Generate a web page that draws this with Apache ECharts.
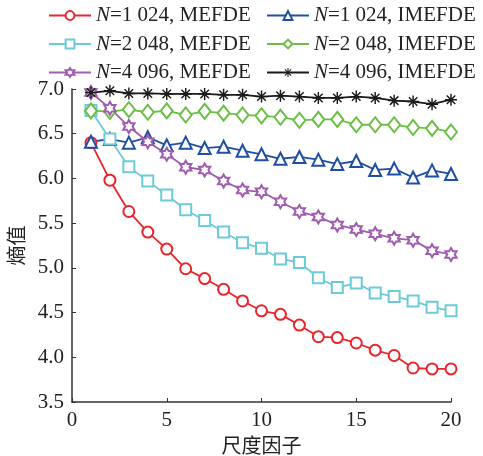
<!DOCTYPE html>
<html>
<head>
<meta charset="utf-8">
<script src="https://cdn.jsdelivr.net/npm/echarts@6/dist/echarts.min.js"></script>
<style>html,body{margin:0;padding:0;background:#fff;}#c{width:483px;height:456px;}</style>
</head>
<body>
<div id="c"></div>
<script>
var scales = [1,2,3,4,5,6,7,8,9,10,11,12,13,14,15,16,17,18,19,20];
var seriesNames = ['N=1 024, MEFDE','N=1 024, IMEFDE','N=2 048, MEFDE','N=2 048, IMEFDE','N=4 096, MEFDE','N=4 096, IMEFDE'];
var mefde1024 = [6.40,5.98,5.63,5.40,5.21,4.99,4.88,4.76,4.63,4.52,4.48,4.36,4.23,4.22,4.16,4.08,4.02,3.88,3.87,3.87];
var imefde1024 = [6.41,6.44,6.40,6.46,6.37,6.40,6.34,6.355,6.31,6.27,6.22,6.24,6.21,6.16,6.195,6.095,6.11,6.01,6.09,6.05];
var mefde2048 = [6.76,6.44,6.13,5.97,5.815,5.65,5.53,5.40,5.28,5.22,5.10,5.06,4.89,4.78,4.83,4.72,4.68,4.63,4.56,4.52];
var imefde2048 = [6.755,6.75,6.77,6.74,6.755,6.71,6.75,6.73,6.71,6.70,6.685,6.65,6.66,6.66,6.60,6.60,6.60,6.57,6.56,6.52];
var mefde4096 = [6.96,6.785,6.58,6.41,6.27,6.125,6.095,5.97,5.87,5.85,5.74,5.63,5.57,5.48,5.43,5.38,5.33,5.31,5.19,5.15];
var imefde4096 = [6.96,6.98,6.95,6.95,6.945,6.945,6.945,6.935,6.935,6.915,6.925,6.915,6.90,6.90,6.915,6.90,6.87,6.86,6.83,6.88];
var yTicks = {min:3.5, max:7.0, interval:0.5};
var xTicks = {min:0, max:20, interval:5};

function pairs(arr){ return arr.map(function(v,i){ return [scales[i], v]; }); }

var hexagram = 'emptyPath://M100,0 L128.87,50 L186.6,50 L157.7,100 L186.6,150 L128.87,150 L100,200 L71.13,150 L13.4,150 L42.3,100 L13.4,50 L71.13,50 Z';
var asterisk = 'path://M0,88 L200,88 L200,112 L0,112 Z M88,0 L112,0 L112,200 L88,200 Z M37.8,20.8 L179.2,162.2 L162.2,179.2 L20.8,37.8 Z M179.2,37.8 L37.8,179.2 L20.8,162.2 L162.2,20.8 Z';

var fontSerif = '"Liberation Serif","DejaVu Serif",serif';
var fontCJK = '"Noto Sans CJK SC",sans-serif';

function mk(name, data, color, symbol, size){
  return {
    name: name, type: 'line', data: pairs(data),
    symbol: symbol, symbolSize: size, symbolKeepAspect: true,
    showAllSymbol: true,
    lineStyle: {color: color, width: 1.8},
    itemStyle: {color: color, borderColor: color, borderWidth: 2},
    emphasis: {disabled: true},
    animation: false, z: 3
  };
}

var series = [
  mk(seriesNames[0], mefde1024, '#e8262b', 'emptyCircle', 11),
  mk(seriesNames[1], imefde1024, '#1f4fa3', 'emptyTriangle', 12),
  mk(seriesNames[2], mefde2048, '#6ccbd8', 'emptyRect', 11),
  mk(seriesNames[3], imefde2048, '#6cbf45', 'emptyDiamond', [12,15]),
  mk(seriesNames[4], mefde4096, '#a05cae', hexagram, 13),
  mk(seriesNames[5], imefde4096, '#1a1a1a', asterisk, 12)
];
series[5].itemStyle = {color:'#1a1a1a', borderWidth:0};

function legendFmt(name){ return '{i|N}' + name.substring(1); }
var legendText = {
  fontFamily: fontSerif, fontSize: 21, color: '#222',
  rich: { i: {fontFamily: fontSerif, fontSize: 21, fontStyle: 'italic', color:'#222'} }
};

var chart = echarts.init(document.getElementById('c'), null, {renderer:'canvas'});
chart.setOption({
  backgroundColor: '#fff',
  animation: false,
  legend: [
    {left: 48, top: 5, orient: 'vertical', itemWidth: 42, itemHeight: 11, itemGap: 7.5, padding: 0,
     data: [seriesNames[0], seriesNames[2], seriesNames[4]], formatter: legendFmt, textStyle: legendText, selectedMode: false},
    {left: 266, top: 5, orient: 'vertical', itemWidth: 42, itemHeight: 11, itemGap: 7.5, padding: 0,
     data: [seriesNames[1], seriesNames[3], seriesNames[5]], formatter: legendFmt, textStyle: legendText, selectedMode: false}
  ],
  grid: {left: 72, right: 32, top: 89, bottom: 54, containLabel: false, outerBoundsMode: 'none'},
  xAxis: {
    type: 'value', min: xTicks.min, max: xTicks.max, interval: xTicks.interval,
    name: '尺度因子', nameLocation: 'middle', nameGap: 30,
    nameTextStyle: {fontFamily: fontCJK, fontSize: 20, color: '#222'},
    axisLine: {lineStyle: {color: '#333', width: 1.5}},
    axisTick: {inside: true, length: 4, lineStyle: {color: '#333'}},
    axisLabel: {fontFamily: fontSerif, fontSize: 21, color: '#222', margin: 8},
    splitLine: {show: false}
  },
  yAxis: {
    type: 'value', min: yTicks.min, max: yTicks.max, interval: yTicks.interval,
    name: '熵值', nameLocation: 'middle', nameGap: 42, nameRotate: 90,
    nameTextStyle: {fontFamily: fontCJK, fontSize: 20, color: '#222'},
    axisLine: {show: true, lineStyle: {color: '#333', width: 1.5}},
    axisTick: {show: true, inside: true, length: 4, lineStyle: {color: '#333'}},
    axisLabel: {fontFamily: fontSerif, fontSize: 21, color: '#222', margin: 8,
      formatter: function(v){ return v.toFixed(1); }},
    splitLine: {show: false}
  },
  series: series
});
</script>
</body>
</html>
